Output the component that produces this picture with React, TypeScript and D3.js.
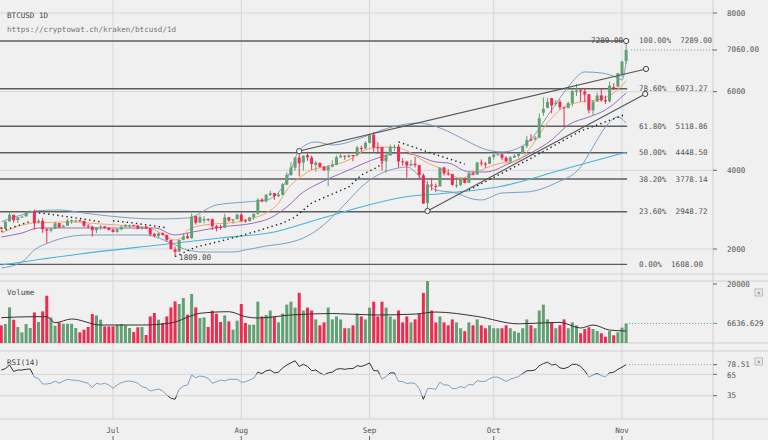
import React from 'react';
import * as d3 from 'd3';

// ---------- data (daily, starting 2017-06-04) ----------
const START = Date.UTC(2017, 5, 4);
const DAY = 86400000;

const opens = [
  2548, 2512, 2700, 2870, 2733, 2808, 2828, 2942, 2953, 2680, 2716, 2499, 2469, 2514, 2658, 2551, 2591, 2700, 2700, 2730, 2712, 2590, 2570, 2478, 2553, 2574, 2539,
  2493, 2436, 2498, 2564, 2595, 2608, 2598, 2520, 2572, 2525, 2385, 2333, 2402, 2360, 2230, 1991, 1932, 2233, 2323, 2270, 2838, 2668, 2720, 2760, 2757, 2577, 2560, 2540, 2807, 2724, 2764,
  2871, 2727, 2709, 2807, 2897, 3258, 3212, 3370, 3420, 3342, 3374, 3634, 3880, 4066, 4326, 4200, 4384, 4324, 4137, 4189, 4090, 3998, 4089, 4137, 4332, 4373, 4345, 4390, 4389, 4571, 4555,
  4701, 4901, 4585, 4592, 4229, 4377, 4589, 4605, 4229, 4223, 4123, 4168, 4132, 3875, 3166, 3637, 3606, 3591, 4073, 3917, 3901, 3628, 3629, 3797, 3681, 3928, 3892, 4197, 4171, 4166,
  4341, 4395, 4408, 4320, 4229, 4324, 4369, 4429, 4614, 4790, 4790, 4829, 5464, 5587, 5835, 5687, 5741, 5603, 5583, 5709, 5995, 6036, 6006, 5935, 5524, 5747, 5905, 5787, 5755, 6114, 6132,
  6440, 6777,
];
const highs = [
  2563, 2702, 2959, 2870, 2818, 2832, 2950, 2981, 2996, 2762, 2786, 2534, 2527, 2685, 2659, 2617, 2763, 2750, 2737, 2751, 2725, 2636, 2591, 2553, 2603, 2588, 2552,
  2515, 2515, 2595, 2633, 2622, 2616, 2608, 2572, 2598, 2537, 2412, 2423, 2425, 2363, 2231, 2058, 2230, 2387, 2397, 2900, 2838, 2862, 2832, 2777, 2768, 2610, 2620, 2897, 2808, 2758, 2897,
  2921, 2762, 2814, 2899, 3290, 3293, 3397, 3484, 3422, 3453, 3679, 3949, 4208, 4325, 4490, 4381, 4470, 4370, 4243, 4196, 4109, 4128, 4255, 4376, 4455, 4379, 4403, 4395, 4625, 4626, 4736,
  4892, 4975, 4714, 4592, 4484, 4654, 4655, 4661, 4308, 4243, 4266, 4345, 4132, 3920, 3733, 3808, 3664, 4079, 4094, 4031, 3916, 3758, 3819, 3797, 3950, 3969, 4210, 4279, 4214, 4358,
  4403, 4470, 4432, 4353, 4362, 4413, 4443, 4626, 4878, 4921, 4873, 5446, 5857, 5838, 5837, 5788, 5800, 5603, 5744, 6060, 6194, 6076, 6075, 5935, 5787, 5971, 6068, 5898, 6255, 6214, 6470,
  6780, 7289,
];
const lows = [
  2495, 2510, 2700, 2669, 2660, 2791, 2828, 2909, 2494, 2650, 2412, 2150, 2422, 2514, 2542, 2550, 2591, 2638, 2667, 2700, 2554, 2526, 2315, 2405, 2484, 2510, 2476,
  2419, 2410, 2480, 2564, 2538, 2583, 2498, 2492, 2518, 2321, 2296, 2275, 2341, 2183, 1990, 1809, 1932, 2221, 2260, 2269, 2621, 2657, 2653, 2700, 2480, 2450, 2490, 2530, 2692, 2645, 2743,
  2686, 2668, 2698, 2743, 2874, 3183, 3180, 3345, 3247, 3319, 3372, 3634, 3857, 3989, 3850, 3994, 4243, 4015, 3970, 4069, 3988, 3600, 4079, 4130, 4307, 4269, 4313, 4232, 4352, 4471, 4549,
  4678, 4469, 4417, 3998, 3946, 4377, 4491, 4075, 4114, 3813, 4097, 4071, 3789, 3153, 2966, 3487, 3445, 3591, 3868, 3866, 3613, 3553, 3594, 3666, 3681, 3869, 3884, 4114, 4062, 4160,
  4269, 4377, 4258, 4209, 4164, 4320, 4321, 4429, 4564, 4738, 4751, 4822, 5381, 5575, 5447, 5648, 5544, 5109, 5583, 5627, 5890, 5747, 5732, 5451, 5392, 5747, 5745, 5689, 5724, 6040, 6103,
  6377, 6700,
];
const closes = [
  2511, 2700, 2870, 2733, 2805, 2823, 2947, 2958, 2659, 2717, 2506, 2464, 2518, 2655, 2548, 2589, 2722, 2735, 2725, 2712, 2589, 2570, 2478, 2552, 2574, 2539, 2480,
  2434, 2506, 2564, 2601, 2601, 2598, 2518, 2571, 2518, 2372, 2337, 2398, 2357, 2233, 1998, 1929, 2228, 2318, 2273, 2817, 2667, 2810, 2760, 2740, 2576, 2529, 2540, 2809, 2726, 2757, 2875,
  2718, 2710, 2804, 2895, 3252, 3213, 3378, 3419, 3342, 3381, 3650, 3884, 4073, 4325, 4181, 4376, 4331, 4160, 4193, 4087, 4001, 4100, 4151, 4334, 4371, 4352, 4382, 4382, 4579, 4565, 4703,
  4892, 4578, 4582, 4236, 4376, 4597, 4599, 4229, 4226, 4122, 4161, 4130, 3882, 3154, 3637, 3625, 3582, 4065, 3924, 3905, 3631, 3630, 3792, 3682, 3926, 3892, 4200, 4174, 4163, 4338,
  4403, 4409, 4317, 4229, 4328, 4370, 4426, 4611, 4773, 4760, 4827, 5325, 5563, 5739, 5648, 5711, 5603, 5590, 5708, 6011, 6031, 6008, 5930, 5526, 5750, 5904, 5780, 5753, 6153, 6110, 6468,
  6767, 7060,
];
const volumes = [
  5970, 6440, 12070, 7900, 5420, 3600, 6440, 5080, 10370, 7120, 10710, 16030, 8680, 5860, 6980, 6540, 6540, 6540, 5080, 3600, 4500, 5420, 9830, 9350, 7900, 5630, 5630,
  5630, 6200, 6440, 6000, 5080, 3700, 5300, 5420, 2700, 9000, 10170, 7900, 6780, 9000, 12070, 14100, 13220, 15250, 9600, 16610, 12070, 8470, 8680, 5420, 10950, 9940, 7120, 9350, 7330, 4500, 7560,
  13220, 6780, 6200, 6200, 14000, 9000, 9500, 11000, 9000, 7000, 10000, 13000, 14000, 12000, 17000, 11000, 12000, 11000, 8000, 6000, 7000, 12000, 8000, 9000, 8000, 5000, 5000, 6000, 10000, 9000, 8000,
  12000, 14000, 9000, 14000, 12000, 9000, 8000, 11000, 7000, 9000, 7000, 8000, 10000, 17000, 21000, 11000, 7000, 9000, 7000, 6000, 8000, 7000, 5000, 4000, 7000, 6000, 8000, 6000, 5000, 6000,
  5000, 5000, 5000, 6000, 5000, 4000, 3500, 5000, 8000, 6000, 5000, 11000, 13000, 8000, 7000, 5000, 6000, 8000, 5000, 7000, 6000, 3290, 4750, 5320, 4750, 4070, 3290, 2140, 4070, 2600, 3620,
  5200, 6637,
];

// overlays: [day index, value]
const emaFast: [number, number][] = [
  [0, 2407], [8, 2661], [17, 2687], [24, 2636], [31, 2585], [37, 2483], [42, 2229], [44, 2305], [45, 2483], [49, 2610], [57, 2687], [61, 2788], [64, 2915], [67, 3170], [69, 3500], [73, 3882], [75, 4009], [78, 4085], [84, 4263], [88, 4518], [92, 4594], [96, 4568], [99, 4441], [103, 4187], [106, 4060], [111, 3800], [115, 3958], [119, 4136], [125, 4263], [128, 4594], [132, 5204], [136, 5611], [140, 5738], [145, 5815], [148, 5967], [151, 6272],
];
const emaSlow: [number, number][] = [
  [0, 2305], [5, 2407], [9, 2534], [24, 2534], [37, 2534], [42, 2356], [45, 2407], [53, 2559], [61, 2661], [65, 2788], [69, 3068], [73, 3450], [76, 3628], [84, 4009], [91, 4314], [96, 4441], [100, 4390], [105, 4212], [108, 4187], [113, 3960], [117, 3958], [123, 4187], [128, 4441], [133, 4772], [137, 5153], [142, 5357], [146, 5535], [151, 5967],
];
const bbUpper: [number, number][] = [
  [0, 2687], [3, 2814], [6, 2890], [8, 2966], [14, 2992], [20, 2915], [26, 2839], [38, 2763], [45, 2788], [52, 3119], [59, 3195], [64, 3246], [68, 3577], [70, 4009], [72, 4518], [76, 4721], [80, 4645], [87, 4823], [92, 5026], [101, 5204], [106, 5077], [113, 4721], [116, 4568], [121, 4467], [127, 4696], [133, 5535], [137, 6120], [141, 6501], [145, 6476], [149, 6349], [150, 6298], [151, 6755],
];
const bbLower: [number, number][] = [
  [0, 1517], [5, 1669], [8, 1975], [12, 2178], [16, 2305], [21, 2356], [35, 2356], [42, 2102], [45, 1975], [49, 1924], [56, 1924], [59, 1975], [64, 2076], [69, 2153], [73, 2280], [77, 2534], [80, 2814], [84, 3246], [87, 3577], [91, 3882], [96, 4060], [98, 4085], [102, 3755], [105, 3500], [110, 3424], [113, 3297], [116, 3246], [121, 3424], [127, 3450], [134, 3678], [140, 4085], [143, 4594], [146, 5102], [149, 5357], [151, 5204],
];
const smaLong: [number, number][] = [
  [0, 1593], [19, 1873], [38, 2102], [53, 2280], [66, 2432], [76, 2737], [87, 3068], [96, 3297], [108, 3424], [120, 3577], [137, 4060], [151, 4460],
];
const sarSegments: [number, number][][] = [
  [[0, 2450], [3, 2560], [7, 2700]],
  [[8, 2930], [12, 2880], [16, 2820], [20, 2760], [24, 2690]],
  [[27, 2720], [32, 2660], [36, 2600], [40, 2540]],
  [[42, 1809], [47, 2050], [53, 2200], [61, 2430], [68, 2660], [71, 2810], [75, 3170], [84, 3580], [87, 3880], [91, 4085], [93, 4300]],
  [[96, 4720], [105, 4400], [112, 4160]],
  [[113, 3500], [127, 4250], [140, 5000], [149, 5350], [151, 5430]],
];
const volMA: [number, number][] = [
  [0, 8580], [8, 8920], [11, 8920], [13, 6880], [17, 8140], [24, 6100], [34, 6100], [41, 6780], [46, 9250], [48, 10070], [55, 10610], [59, 8920], [62, 8470], [70, 9500], [80, 10000], [90, 9500], [100, 9800], [105, 10500], [115, 9000], [125, 6500], [135, 7000], [140, 5080], [143, 6100], [147, 4400], [151, 4070],
];
const rsi = [
  71, 73, 78, 69, 71, 71, 72, 72.5, 61, 59, 51.4, 51.4, 52.4, 55.6, 52.4, 55.6, 58, 57, 56.5, 55.6, 54, 52.4, 46.2, 52.4, 51, 52.4, 50,
  45.4, 50, 53.2, 55, 55.6, 54.6, 52.4, 47.6, 46.2, 41.6, 43, 44.4, 41.6, 36, 31.4, 30, 44, 48.6, 50, 64, 60.2, 62.6, 61.6, 59.4, 52.4, 54.6, 57, 55.6, 58, 58, 58,
  53.8, 54.6, 57, 59.4, 68, 66, 70, 71, 67, 68, 74, 78, 81, 84, 76, 79, 76, 70, 71, 67, 64, 67, 68, 72, 73, 72, 73, 73, 77, 76, 78,
  81, 70, 70, 58, 62, 67, 67, 55, 55, 52, 53, 52, 45, 30, 45, 45, 44, 54, 50, 50, 45, 45, 48, 46, 51, 50, 56, 55, 55, 59,
  61, 61, 58, 55, 58, 60, 62, 66, 70, 70, 71, 77, 80, 82, 78, 79, 74, 73, 75, 79, 79, 76, 70, 61, 64, 66, 63, 61.5, 67, 68, 72,
  75, 78.51,
];

const fibPct = ['100.00%', '78.60%', '61.80%', '50.00%', '38.20%', '23.60%', '0.00%'];
const fibVal = [7289.0, 6073.27, 5118.86, 4448.5, 3778.14, 2948.72, 1608.0];
const priceTicks = [8000, 6000, 4000, 2000];
const monthLabels = ['Jul', 'Aug', 'Sep', 'Oct', 'Nov'];
const monthDates = [Date.UTC(2017, 6, 1), Date.UTC(2017, 7, 1), Date.UTC(2017, 8, 1), Date.UTC(2017, 9, 1), Date.UTC(2017, 10, 1)];
// trend lines: [day index, price]
const trendUpper: [number, number][] = [[72, 4490], [155.8, 6577]];
const trendLower: [number, number][] = [[103, 2966], [155.6, 5942]];
const lastPrice = 7060.0;
const lastVolume = 6636.629;
const lastRsi = 78.51;
const peakHigh = 7289.0;
const lowMark = 1809.0;

// ---------- layout ----------
const W = 768, H = 440;
const AXIS_X = 713;
const MAIN_BOTTOM = 274;
const FONT = '"DejaVu Sans Mono", monospace';
const GREEN = '#63a073';
const RED = '#ee2b51';
const TXT = '#555';

const x = d3.scaleUtc()
  .domain([new Date(Date.UTC(2017, 6, 1)), new Date(Date.UTC(2017, 10, 1))])
  .range([113, 622]);
const xi = (i: number) => x(new Date(START + i * DAY));
const y = d3.scaleLinear().domain([2000, 8000]).range([249, 13]);
const yVol = d3.scaleLinear().domain([0, 20000]).range([343, 284]);
const yRsi = d3.scaleLinear().domain([35, 65]).range([395.7, 374.3]);

const lineP = d3.line<[number, number]>().x(d => xi(d[0])).y(d => y(d[1])).curve(d3.curveMonotoneX);
const lineLin = d3.line<[number, number]>().x(d => xi(d[0])).y(d => y(d[1]));
const lineVol = d3.line<[number, number]>().x(d => xi(d[0])).y(d => yVol(d[1])).curve(d3.curveMonotoneX);
const lineRsi = d3.line<number>().x((_, i) => xi(i)).y(d => yRsi(d));

const T = (props: any) => <text fontFamily={FONT} fontSize={7.6} fill={TXT} dominantBaseline="central" style={{ whiteSpace: 'pre' }} {...props} />;

export default function App() {
  const n = closes.length;
  const lastX = xi(n - 1);
  const cw = 3;
  return (
    <svg width={W} height={H} style={{ position: 'absolute', left: 0, top: 0, background: '#f0f0f0' }}>
      <defs>
        <clipPath id="mainClip"><rect x={0} y={0} width={AXIS_X} height={MAIN_BOTTOM} /></clipPath>
        <clipPath id="rsiIn"><rect x={0} y={yRsi(65)} width={AXIS_X} height={yRsi(35) - yRsi(65)} /></clipPath>
        <clipPath id="rsiOut">
          <rect x={0} y={351} width={AXIS_X} height={yRsi(65) - 351} />
          <rect x={0} y={yRsi(35)} width={AXIS_X} height={419 - yRsi(35)} />
        </clipPath>
      </defs>
      <rect x={0} y={0} width={W} height={H} fill="#f0f0f0" />

      {/* grid */}
      {priceTicks.map(v => <line key={v} x1={0} x2={AXIS_X} y1={y(v)} y2={y(v)} stroke="#d6d6d6" />)}
      {monthDates.map(d => <line key={d} x1={x(new Date(d))} x2={x(new Date(d))} y1={0} y2={419} stroke="#d6d6d6" />)}
      <line x1={0} x2={AXIS_X} y1={yRsi(65)} y2={yRsi(65)} stroke="#d6d6d6" />
      <line x1={0} x2={AXIS_X} y1={yRsi(35)} y2={yRsi(35)} stroke="#d6d6d6" />
      {[274, 281, 343, 351, 419].map(v => <line key={v} x1={0} x2={W} y1={v} y2={v} stroke="#d0d0d0" />)}
      <line x1={AXIS_X} x2={AXIS_X} y1={0} y2={H} stroke="#cfcfcf" />

      <g clipPath="url(#mainClip)">
        {/* fib levels */}
        {fibVal.map(v => <line key={v} x1={0} x2={lastX + 1} y1={y(v)} y2={y(v)} stroke="#5e5e5e" strokeWidth={1.4} />)}
        {/* overlays */}
        <path d={lineP(smaLong) || ''} fill="none" stroke="#45b6d8" strokeWidth={1.1} />
        <path d={lineP(bbUpper) || ''} fill="none" stroke="#7d9fc2" strokeWidth={1} />
        <path d={lineP(bbLower) || ''} fill="none" stroke="#7d9fc2" strokeWidth={1} />
        <path d={lineP(emaSlow) || ''} fill="none" stroke="#9a6cb8" strokeWidth={1} />
        <path d={lineP(emaFast) || ''} fill="none" stroke="#f6a46c" strokeWidth={1} />
        {sarSegments.map((s, k) => <path key={k} d={lineLin(s) || ''} fill="none" stroke="#222" strokeWidth={1.4} strokeDasharray="1.4,3.2" />)}
        {/* candles */}
        {closes.map((c, i) => {
          const o = opens[i];
          const up = c >= o;
          const cx = xi(i);
          const top = y(Math.max(o, c));
          const bot = y(Math.min(o, c));
          const col = up ? GREEN : RED;
          return (
            <g key={i}>
              <line x1={cx} x2={cx} y1={y(highs[i])} y2={y(lows[i])} stroke={col} strokeWidth={1} />
              <rect x={cx - cw / 2} y={top} width={cw} height={Math.max(1, bot - top)} fill={col} />
            </g>
          );
        })}
        {/* trend lines */}
        <path d={lineLin(trendUpper) || ''} stroke="#555" strokeWidth={1.1} fill="none" />
        <path d={lineLin(trendLower) || ''} stroke="#555" strokeWidth={1.1} fill="none" />
      </g>
      {[trendUpper[0], trendUpper[1], trendLower[0], trendLower[1], [n - 1, peakHigh] as [number, number]].map((p, k) => (
        <circle key={k} cx={xi(p[0])} cy={y(p[1])} r={2.6} fill="#f4f4f4" stroke="#444" strokeWidth={1} />
      ))}
      <T x={lastX - 3} y={y(peakHigh)} textAnchor="end" fill="#444">{peakHigh.toFixed(2)}</T>
      <T x={xi(42) + 4} y={y(lowMark) + 1} fill="#444">{lowMark.toFixed(2)}</T>

      {/* fib labels */}
      {fibVal.map((v, i) => <T key={v} x={639} y={y(v)}>{`${fibPct[i]}  ${v.toFixed(2)}`}</T>)}

      {/* price axis */}
      {priceTicks.map(v => (
        <g key={v}>
          <line x1={AXIS_X} x2={AXIS_X + 4} y1={y(v)} y2={y(v)} stroke="#666" />
          <T x={727} y={y(v)}>{String(v)}</T>
        </g>
      ))}
      <line x1={lastX + 5} x2={AXIS_X} y1={y(lastPrice)} y2={y(lastPrice)} stroke={GREEN} strokeDasharray="1,2" />
      <line x1={AXIS_X} x2={AXIS_X + 4} y1={y(lastPrice)} y2={y(lastPrice)} stroke="#666" />
      <T x={727} y={y(lastPrice)}>{lastPrice.toFixed(2)}</T>

      {/* titles */}
      <T x={7} y={15} fill="#444">BTCUSD 1D</T>
      <T x={7} y={29} fill="#777">https://cryptowat.ch/kraken/btcusd/1d</T>

      {/* volume */}
      <T x={7} y={292} fill="#444">Volume</T>
      {volumes.map((v, i) => {
        const up = closes[i] >= opens[i];
        const cx = xi(i);
        const top = Math.max(281, yVol(v));
        return <rect key={i} x={cx - cw / 2} y={top} width={cw} height={343 - top} fill={up ? GREEN : RED} />;
      })}
      <path d={lineVol(volMA) || ''} fill="none" stroke="#333" strokeWidth={1} />
      <line x1={lastX + 3} x2={AXIS_X} y1={yVol(lastVolume)} y2={yVol(lastVolume)} stroke={GREEN} strokeDasharray="1,2" />
      <line x1={AXIS_X} x2={AXIS_X + 4} y1={yVol(20000)} y2={yVol(20000)} stroke="#666" />
      <T x={727} y={yVol(20000)}>20000</T>
      <line x1={AXIS_X} x2={AXIS_X + 4} y1={yVol(lastVolume)} y2={yVol(lastVolume)} stroke={GREEN} />
      <T x={727} y={yVol(lastVolume)}>{lastVolume.toFixed(3)}</T>

      {/* RSI */}
      <T x={7} y={362} fill="#444">RSI(14)</T>
      <path d={lineRsi(rsi) || ''} fill="none" stroke="#7d9fc2" strokeWidth={1} clipPath="url(#rsiIn)" />
      <path d={lineRsi(rsi) || ''} fill="none" stroke="#333" strokeWidth={1} clipPath="url(#rsiOut)" />
      <line x1={lastX + 3} x2={AXIS_X} y1={yRsi(lastRsi)} y2={yRsi(lastRsi)} stroke="#999" strokeDasharray="1,2" />
      {[lastRsi, 65, 35].map(v => (
        <g key={v}>
          <line x1={AXIS_X} x2={AXIS_X + 4} y1={yRsi(v)} y2={yRsi(v)} stroke="#666" />
          <T x={727} y={yRsi(v) + (v === 65 ? 1 : 0)}>{v === lastRsi ? v.toFixed(2) : String(v)}</T>
        </g>
      ))}

      {/* close boxes */}
      {[289, 358].map(v => (
        <g key={v}>
          <rect x={755} y={v} width={7.5} height={7} fill="none" stroke="#aaa" strokeWidth={0.8} />
          <text x={758.75} y={v + 3.7} fontSize={7} fontFamily={FONT} fill="#777" textAnchor="middle" dominantBaseline="central">×</text>
        </g>
      ))}

      {/* time axis */}
      {monthDates.map((d, i) => (
        <g key={d}>
          <T x={x(new Date(d))} y={430} textAnchor="middle">{monthLabels[i]}</T>
          <line x1={x(new Date(d))} x2={x(new Date(d))} y1={436} y2={440} stroke="#666" />
        </g>
      ))}
    </svg>
  );
}
